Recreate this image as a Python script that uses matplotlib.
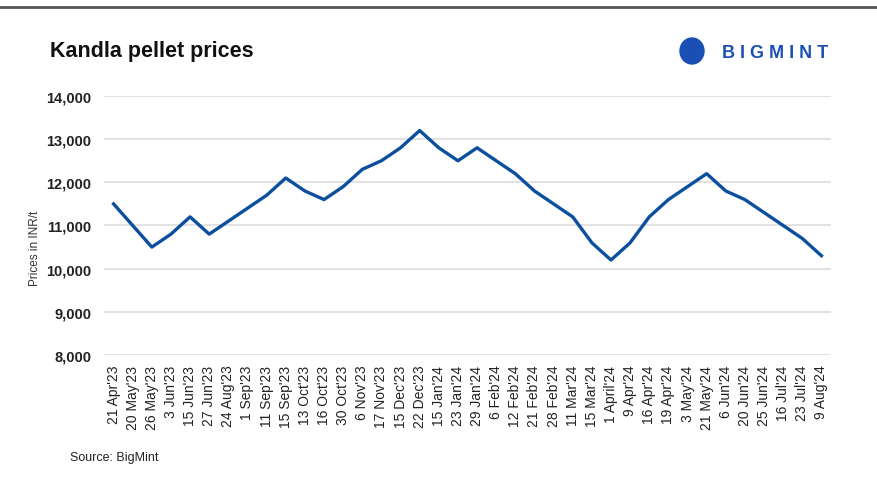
import matplotlib.pyplot as plt
from matplotlib.lines import Line2D
from matplotlib.patches import Ellipse
from matplotlib.ticker import FuncFormatter

dates = ["21 Apr'23", "20 May'23", "26 May'23", "3 Jun'23", "15 Jun'23", "27 Jun'23",
         "24 Aug'23", "1 Sep'23", "11 Sep'23", "15 Sep'23", "13 Oct'23", "16 Oct'23",
         "30 Oct'23", "6 Nov'23", "17 Nov'23", "15 Dec'23", "22 Dec'23", "15 Jan'24",
         "23 Jan'24", "29 Jan'24", "6 Feb'24", "12 Feb'24", "21 Feb'24", "28 Feb'24",
         "11 Mar'24", "15 Mar'24", "1 April'24", "9 Apr'24", "16 Apr'24", "19 Apr'24",
         "3 May'24", "21 May'24", "6 Jun'24", "20 Jun'24", "25 Jun'24", "16 Jul'24",
         "23 Jul'24", "9 Aug'24"]
prices = [11500, 11000, 10500, 10800, 11200, 10800, 11100, 11400, 11700, 12100,
          11800, 11600, 11900, 12300, 12500, 12800, 13200, 12800, 12500, 12800,
          12500, 12200, 11800, 11500, 11200, 10600, 10200, 10600, 11200, 11600,
          11900, 12200, 11800, 11600, 11300, 11000, 10700, 10300]
yticks = [8000, 9000, 10000, 11000, 12000, 13000, 14000]

plt.rcParams['font.family'] = ['Liberation Sans', 'DejaVu Sans']

W, H = 877, 485
fig = plt.figure(figsize=(W / 100, H / 100), dpi=100)
ax = fig.add_axes([104 / W, 1 - 356 / H, 727 / W, 259 / H])

x = list(range(len(dates)))
ax.plot(x, prices, color='#0b4f9e', lw=2.4, clip_on=False, zorder=3)

ax.set_xlim(-0.5, len(dates) - 0.5)
ax.set_ylim(8000, 14000)
ax.set_yticks(yticks)
ax.yaxis.set_major_formatter(FuncFormatter(lambda v, p: f'{int(v):,}'))
ax.set_xticks(x)
ax.set_xticklabels(dates, rotation=90, fontsize=10, color='#222222')
for lab in ax.get_yticklabels():
    lab.set_fontweight('bold')
    lab.set_fontsize(10.5)
    lab.set_color('#222222')
ax.tick_params(axis='both', length=0)
ax.tick_params(axis='y', pad=9)
ax.tick_params(axis='x', pad=7)
ax.grid(axis='y', color='#dddddd', lw=1.2)
ax.set_axisbelow(True)
for s in ax.spines.values():
    s.set_visible(False)

ax.set_ylabel('Prices in INR/t', fontsize=8.5, color='#333333')
ax.yaxis.set_label_coords(-63 / 727, 0.415)

fig.text(50 / W, 1 - 52 / H, 'Kandla pellet prices', fontsize=15.5, fontweight='bold',
         va='center', ha='left', color='#111111')
fig.text(70 / W, 1 - 458 / H, 'Source: BigMint', fontsize=9, va='center', ha='left',
         color='#222222')

# logo
fig.text(722 / W, 1 - 54 / H, 'B I G M I N T', fontsize=13, fontweight='bold',
         va='center', ha='left', color='#1a4fb3')
fig.add_artist(Ellipse((692 / W, 1 - 52 / H), 24 / W, 26 / H, transform=fig.transFigure,
                       color='#1a4fb3'))

fig.add_artist(Line2D([0, 1], [1 - 8 / H, 1 - 8 / H], transform=fig.transFigure,
                      color='#555555', lw=2))

fig.savefig('out.png', dpi=100, facecolor='white')
